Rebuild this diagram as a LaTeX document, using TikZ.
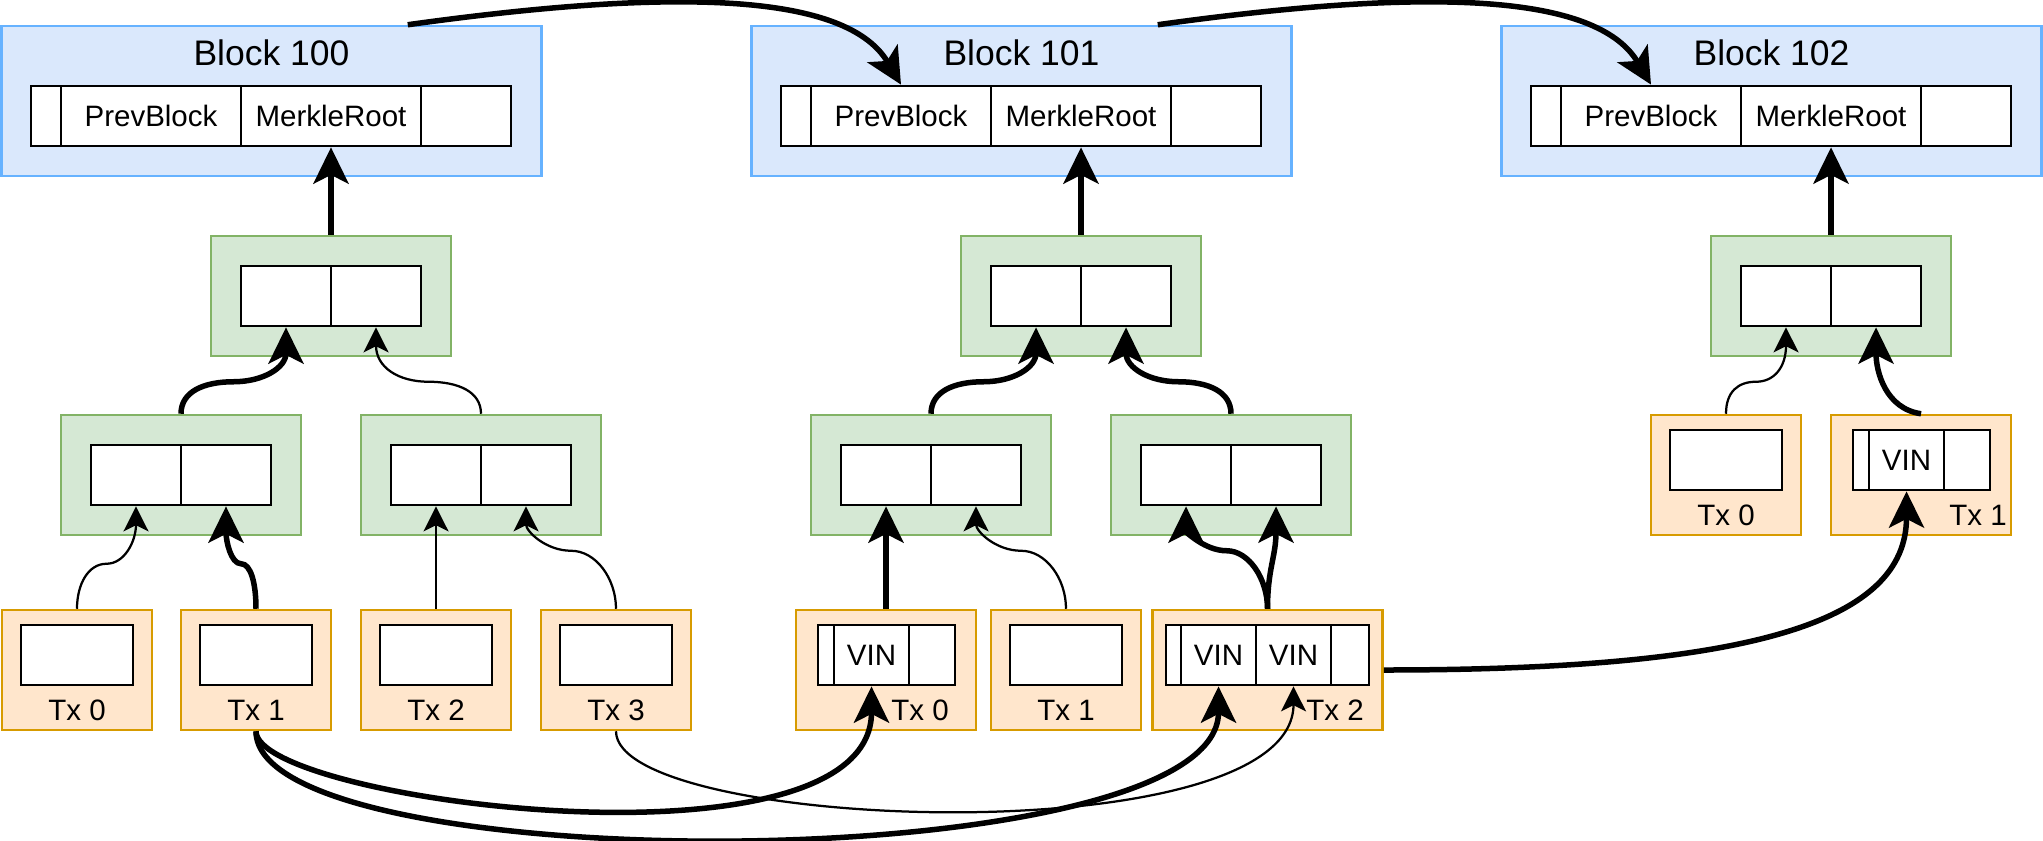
\documentclass[tikz,border=0pt]{standalone}
\usepackage{fontspec}
\setmainfont{Liberation Sans}
\usetikzlibrary{arrows.meta}
\definecolor{blkfill}{HTML}{DAE8FC}
\definecolor{blkline}{HTML}{66B2FF}
\definecolor{hshfill}{HTML}{D5E8D4}
\definecolor{hshline}{HTML}{82B366}
\definecolor{txfill}{HTML}{FFE6CC}
\definecolor{txline}{HTML}{D79B00}
\begin{document}
\begin{tikzpicture}[x=0.4pt, y=-0.4pt,
blockbox/.style={draw=blkline, fill=blkfill, line width=1pt, minimum width=216pt, minimum height=60pt, inner sep=0},
hashbox/.style={draw=hshline, fill=hshfill, line width=1pt, minimum width=96pt, minimum height=48pt, inner sep=0},
txbox/.style={draw=txline, fill=txfill, line width=1pt, minimum height=48pt, inner sep=0},
cell/.style={draw, fill=white, line width=1.1pt, minimum height=24pt, inner sep=0, font=\fontsize{11.8}{14}\selectfont},
blocktitle/.style={font=\fontsize{14.2}{17}\selectfont, inner sep=0},
txname/.style={font=\fontsize{11.8}{14}\selectfont, inner sep=0},
ptr/.style={line width=0.9pt, -{Stealth[length=10pt, width=10pt, inset=2.5pt]}},
bptr/.style={line width=2.2pt, -{Stealth[length=14.5pt, width=14pt, inset=3.5pt]}}]
\useasboundingbox (0,0) rectangle (2043,840);

\node[blockbox] (blk0) at (271.5,101){};
\node[blocktitle] (blk0lbl) at (271.5,53){Block 100};
\node[cell, minimum width=12pt] (pad0) at (46,116){};
\node[cell, minimum width=72pt] (prev0) at (151,116){PrevBlock};
\node[cell, minimum width=72pt] (root0) at (331,116){MerkleRoot};
\node[cell, minimum width=36pt] (tail0) at (466,116){};
\node[hashbox] (h0) at (331,296){};
\node[cell, minimum width=36pt] (h0a) at (286,296){};
\node[cell, minimum width=36pt] (h0b) at (376,296){};
\node[hashbox] (h00) at (181,475){};
\node[cell, minimum width=36pt] (h00a) at (136,475){};
\node[cell, minimum width=36pt] (h00b) at (226,475){};
\node[hashbox] (h01) at (481,475){};
\node[cell, minimum width=36pt] (h01a) at (436,475){};
\node[cell, minimum width=36pt] (h01b) at (526,475){};
\node[txbox, minimum width=60pt] (tx00) at (77,670){};
\node[cell, minimum width=44.8pt] (tx00in) at (77,655){};
\node[txname] (tx00lbl) at (77,710){Tx 0};
\node[txbox, minimum width=60pt] (tx01) at (256,670){};
\node[cell, minimum width=44.8pt] (tx01in) at (256,655){};
\node[txname] (tx01lbl) at (256,710){Tx 1};
\node[txbox, minimum width=60pt] (tx02) at (436,670){};
\node[cell, minimum width=44.8pt] (tx02in) at (436,655){};
\node[txname] (tx02lbl) at (436,710){Tx 2};
\node[txbox, minimum width=60pt] (tx03) at (616,670){};
\node[cell, minimum width=44.8pt] (tx03in) at (616,655){};
\node[txname] (tx03lbl) at (616,710){Tx 3};

\node[blockbox] (blk1) at (1021.5,101){};
\node[blocktitle] (blk1lbl) at (1021.5,53){Block 101};
\node[cell, minimum width=12pt] (pad1) at (796,116){};
\node[cell, minimum width=72pt] (prev1) at (901,116){PrevBlock};
\node[cell, minimum width=72pt] (root1) at (1081,116){MerkleRoot};
\node[cell, minimum width=36pt] (tail1) at (1216,116){};
\node[hashbox] (h1) at (1081,296){};
\node[cell, minimum width=36pt] (h1a) at (1036,296){};
\node[cell, minimum width=36pt] (h1b) at (1126,296){};
\node[hashbox] (h10) at (931,475){};
\node[cell, minimum width=36pt] (h10a) at (886,475){};
\node[cell, minimum width=36pt] (h10b) at (976,475){};
\node[hashbox] (h11) at (1231,475){};
\node[cell, minimum width=36pt] (h11a) at (1186,475){};
\node[cell, minimum width=36pt] (h11b) at (1276,475){};
\node[txbox, minimum width=72pt] (tx10) at (886,670){};
\node[cell, minimum width=6.4pt] (tx10a) at (826,655){};
\node[cell, minimum width=30pt] (tx10v) at (871.5,655){VIN};
\node[cell, minimum width=18.4pt] (tx10c) at (932,655){};
\node[txname] (tx10lbl) at (920,710){Tx 0};
\node[txbox, minimum width=60pt] (tx11) at (1066,670){};
\node[cell, minimum width=44.8pt] (tx11in) at (1066,655){};
\node[txname] (tx11lbl) at (1066,710){Tx 1};
\node[txbox, minimum width=92pt] (tx12) at (1267.5,670){};
\node[cell, minimum width=6pt] (tx12a) at (1173.5,655){};
\node[cell, minimum width=30pt] (tx12v) at (1218.5,655){VIN};
\node[cell, minimum width=30pt] (tx12w) at (1293.5,655){VIN};
\node[cell, minimum width=15.2pt] (tx12c) at (1350,655){};
\node[txname] (tx12lbl) at (1335,710){Tx 2};

\node[blockbox] (blk2) at (1771.5,101){};
\node[blocktitle] (blk2lbl) at (1771.5,53){Block 102};
\node[cell, minimum width=12pt] (pad2) at (1546,116){};
\node[cell, minimum width=72pt] (prev2) at (1651,116){PrevBlock};
\node[cell, minimum width=72pt] (root2) at (1831,116){MerkleRoot};
\node[cell, minimum width=36pt] (tail2) at (1966,116){};
\node[hashbox] (h2) at (1831,296){};
\node[cell, minimum width=36pt] (h2a) at (1786,296){};
\node[cell, minimum width=36pt] (h2b) at (1876,296){};
\node[txbox, minimum width=60pt] (tx20) at (1726,475){};
\node[cell, minimum width=44.8pt] (tx20in) at (1726,460){};
\node[txname] (tx20lbl) at (1726,515){Tx 0};
\node[txbox, minimum width=72pt] (tx21) at (1921,475){};
\node[cell, minimum width=6.4pt] (tx21a) at (1861,460){};
\node[cell, minimum width=30pt] (tx21v) at (1906.5,460){VIN};
\node[cell, minimum width=18.4pt] (tx21c) at (1967,460){};
\node[txname] (tx21lbl) at (1978,515){Tx 1};

\draw[bptr] ([xshift=-54pt]blk0.north east) .. controls +(294,-41) and +(-51,-86) .. (prev1.north);
\draw[bptr] ([xshift=-54pt]blk1.north east) .. controls +(294,-41) and +(-51,-86) .. (prev2.north);

\draw[bptr] (h0.north) -- (root0.south);
\draw[bptr] (h00.north) .. controls +(0,-22) and +(-30,0) .. ++(52.5,-32) .. controls +(30,0) and +(0,40) .. (h0a.south);
\draw[ptr] (h01.north) .. controls +(0,-22) and +(30,0) .. ++(-52.5,-32) .. controls +(-30,0) and +(0,40) .. (h0b.south);
\draw[ptr] (tx00.north) .. controls +(0,-25) and +(-18,0) .. ++(29.5,-45) .. controls +(18,0) and +(0,35) .. (h00a.south);
\draw[bptr] (tx01.north) .. controls +(0,-25) and +(10,0) .. ++(-15,-45) .. controls +(-10,0) and +(0,35) .. (h00b.south);
\draw[ptr] (tx02.north) -- (h01a.south);
\draw[ptr] (tx03.north) .. controls +(0,-30) and +(25,0) .. ++(-45,-58) .. controls +(-25,0) and +(0,25) .. (h01b.south);

\draw[bptr] (h1.north) -- (root1.south);
\draw[bptr] (h10.north) .. controls +(0,-22) and +(-30,0) .. ++(52.5,-32) .. controls +(30,0) and +(0,40) .. (h1a.south);
\draw[bptr] (h11.north) .. controls +(0,-22) and +(30,0) .. ++(-52.5,-32) .. controls +(-30,0) and +(0,40) .. (h1b.south);
\draw[bptr] (tx10.north) -- (h10a.south);
\draw[ptr] (tx11.north) .. controls +(0,-30) and +(25,0) .. ++(-45,-58) .. controls +(-25,0) and +(0,25) .. (h10b.south);
\draw[bptr] (tx12.north) .. controls +(0,-30) and +(22,0) .. ++(-40.75,-58) .. controls +(-22,0) and +(0,25) .. (h11a.south);
\draw[bptr] (tx12.north) .. controls +(0,-40) and +(0,50) .. (h11b.south);

\draw[bptr] (h2.north) -- (root2.south);
\draw[ptr] (tx20.north) .. controls +(0,-22) and +(-18,0) .. ++(30,-32) .. controls +(18,0) and +(0,40) .. (h2a.south);
\draw[bptr] (tx21.north) .. controls +(-35,-5) and +(0,45) .. (h2b.south);

\draw[bptr] (tx01.south) .. controls +(0,70) and +(0,194) .. (tx10v.south);
\draw[bptr] (tx01.south) .. controls +(0,150) and +(0,194) .. (tx12v.south);
\draw[ptr] (tx03.south) .. controls +(0,100) and +(0,170) .. (tx12w.south);
\draw[bptr] (tx12.east) .. controls +(370,0) and +(0,130) .. (tx21v.south);

\end{tikzpicture}
\end{document}
